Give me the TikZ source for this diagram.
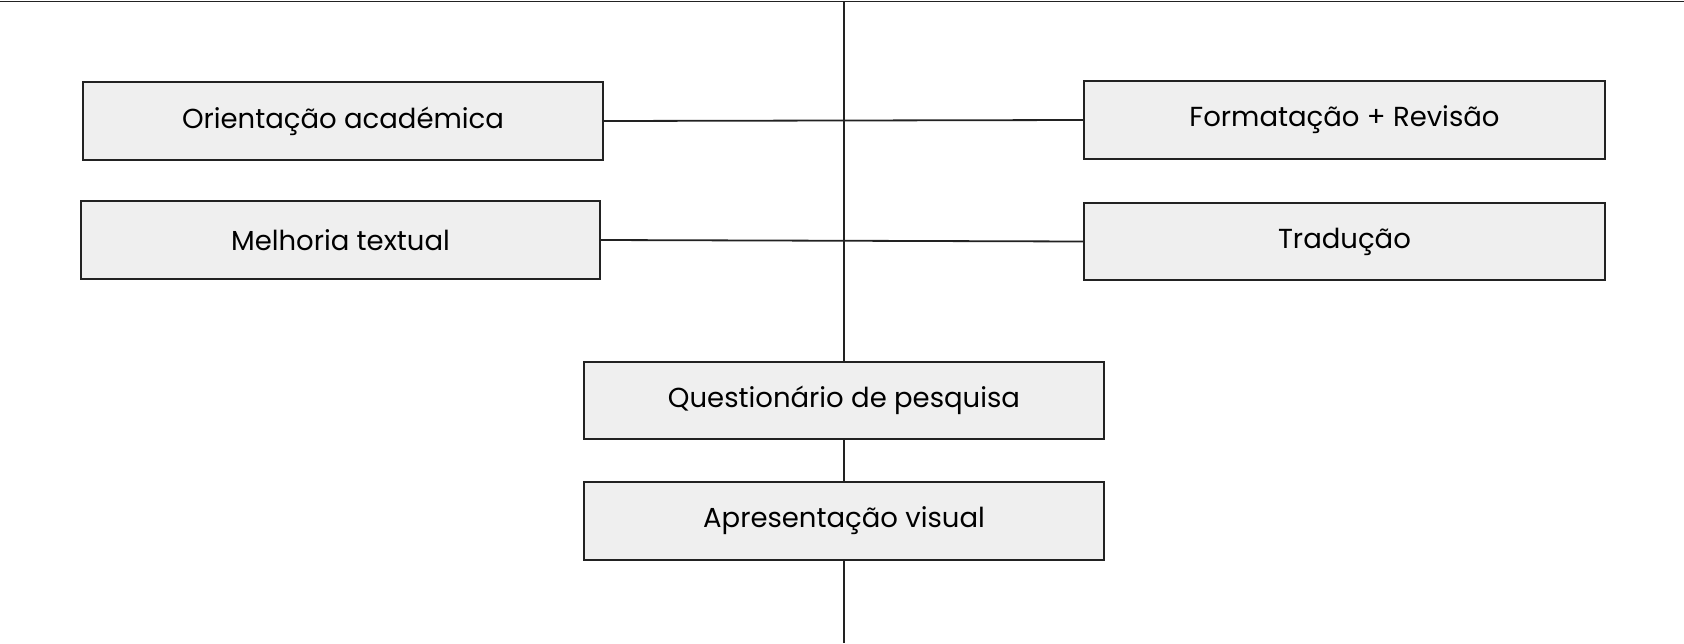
\documentclass[tikz,border=0pt]{standalone}
\usepackage{fontspec}
\setmainfont{Poppins}
\definecolor{boxfill}{HTML}{EFEFEF}
\definecolor{edge}{HTML}{222222}
\begin{document}
\begin{tikzpicture}[x=1pt,y=-1pt,
  box/.style={draw=edge,line width=1.8pt,fill=boxfill,inner sep=0pt,font=\fontsize{27.5}{32}\selectfont,text=black},
  link/.style={draw=edge,line width=1.8pt}]
\useasboundingbox (0,0) rectangle (1684,643);
\path[fill=white] (0,0) rectangle (1684,643);
\coordinate (tl) at (0,1.5);
\coordinate (tr) at (1684,1.5);
\coordinate (vt) at (844,1.5);
\coordinate (vb) at (844,643);
\node[box,minimum width=520pt,minimum height=78pt] (ori) at (343,121) {Orientação académica};
\node[box,minimum width=519pt,minimum height=78pt] (mel) at (340.5,240) {Melhoria textual};
\node[box,minimum width=521pt,minimum height=78pt] (for) at (1344.5,120) {Formatação + Revisão};
\node[box,minimum width=521pt,minimum height=77pt] (tra) at (1344.5,241.5) {Tradução};
\node[box,minimum width=520pt,minimum height=77pt] (que) at (844,400.5) {Questionário de pesquisa};
\node[box,minimum width=520pt,minimum height=78pt] (apr) at (844,521) {Apresentação visual};
\draw[link] (tl) -- (tr);
\draw[link] (vt) -- (que.north);
\draw[link] (que.south) -- (apr.north);
\draw[link] (apr.south) -- (vb);
\draw[link] (ori.east) -- (for.west);
\draw[link] (mel.east) -- (tra.west);
\end{tikzpicture}
\end{document}
